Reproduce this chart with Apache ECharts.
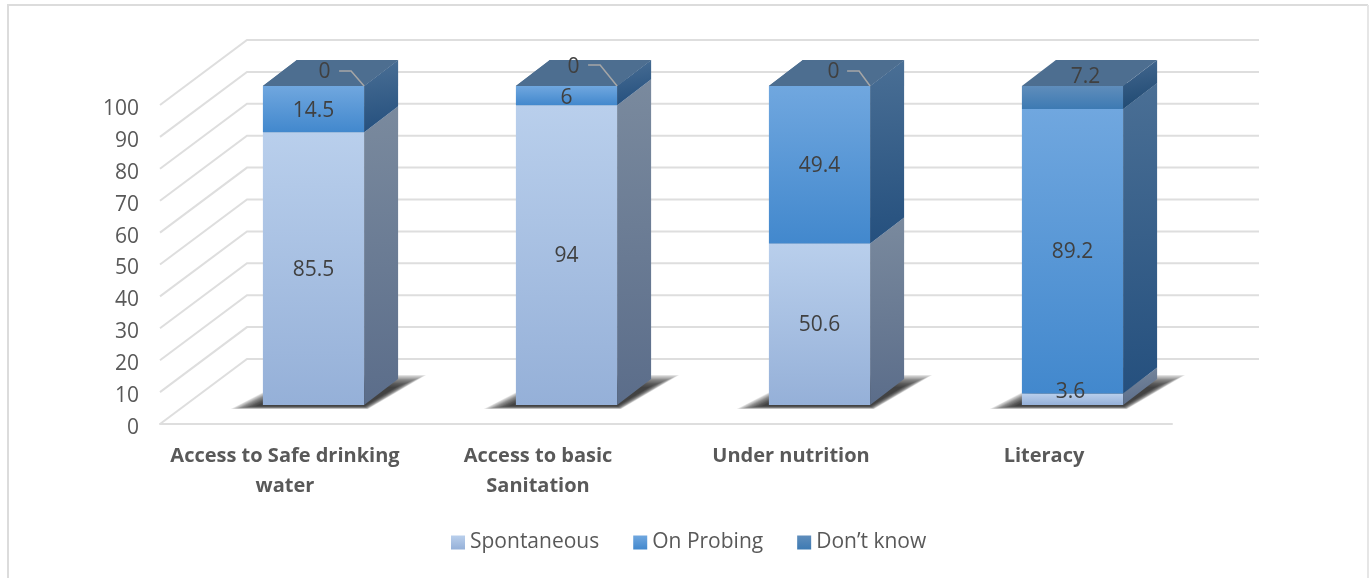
<!DOCTYPE html>
<html>
<head>
<meta charset="utf-8">
<title>Awareness by topic</title>
<script src="https://cdn.jsdelivr.net/npm/echarts@6/dist/echarts.min.js"></script>
<style>
  html, body { margin: 0; padding: 0; background: #fff; }
  #chart { width: 1372px; height: 578px; }
</style>
</head>
<body>
<div id="chart"></div>
<script>
// Values
const categories = ['Access to Safe drinking\nwater', 'Access to basic\nSanitation', 'Under nutrition', 'Literacy'];
const spontaneous = [85.5, 94, 50.6, 3.6];
const onProbing = [14.5, 6, 49.4, 89.2];
const dontKnow = [0, 0, 0, 7.2];
const yTicks = [0, 10, 20, 30, 40, 50, 60, 70, 80, 90, 100];

// Oblique projection of the 3D box: offsets from the front axis plane, in pixels
const NEAR = [27, -19];
const FAR = [61, -45];
const WALL = [87, -65];
const BAR_RATIO = 0.4;
const SHADOW_STEPS = 16;

const FONT = '"Open Sans", sans-serif';
const grad = (c0, c1, x2 = 0, y2 = 1) => new echarts.graphic.LinearGradient(0, 0, x2, y2, [
  { offset: 0, color: c0 }, { offset: 1, color: c1 }
]);

const stacks = [
  { name: 'Spontaneous', values: spontaneous,
    front: ['#b9cfec', '#95b0d8'], side: ['#7a8a9e', '#5b6d8a'], top: '#8fa3bd',
    nudge: [[0, 1], [0, 1], [0, 1], [-2, -7]] },
  { name: 'On Probing', values: onProbing,
    front: ['#70a7df', '#4288cd'], side: ['#4a6f95', '#25507e'], top: '#4d6e90',
    nudge: [[0, 2], [0, 2], [0, 1], [0, 1]] },
  { name: 'Don\u2019t know', values: dontKnow,
    front: ['#5f8dbb', '#3d7ab3'], side: ['#44688f', '#204a73'], top: '#4d6e90',
    nudge: [[11, -14], [7, -19], [14, -14], [13, -20]] }
];

// Elbow of each leader line, relative to the bar's top front-right corner
const leaders = [
  [[0, 0], [-13, -15], [-25, -15]],
  [[0, 0], [-17, -21], [-29, -21]],
  [[0, 0], [-11, -15], [-23, -15]],
  null
];

// Running base of every stacked segment
const bases = stacks.map((s, i) =>
  s.values.map((_, c) => stacks.slice(0, i).reduce((sum, p) => sum + p.values[c], 0)));

function barFrame(api, cat, low, high) {
  const band = api.size([1, 0])[0];
  const half = band * BAR_RATIO / 2;
  const a = api.coord([cat, low]);
  const b = api.coord([cat, high]);
  return {
    xL: a[0] - half + NEAR[0], xR: a[0] + half + NEAR[0],
    yB: a[1] + NEAR[1], yT: b[1] + NEAR[1],
    dx: FAR[0] - NEAR[0], dy: FAR[1] - NEAR[1]
  };
}

function poly(points, fill) {
  return { type: 'polygon', shape: { points }, style: { fill } };
}

// Back wall and side wall rules
function renderWall(params, api) {
  const v = api.value(1);
  const band = api.size([1, 0])[0];
  const start = api.coord([0, v]);
  const end = api.coord([categories.length - 1, v]);
  const x0 = start[0] - band / 2;
  const x1 = end[0] + band / 2;
  return {
    type: 'polyline',
    shape: { points: [[x0, start[1]], [x0 + WALL[0], start[1] + WALL[1]], [x1 + WALL[0], start[1] + WALL[1]]] },
    style: { fill: null, stroke: '#dedede', lineWidth: 2 }
  };
}

// Soft floor shadow behind each bar, feathered from nested translucent shapes
function renderShadow(params, api) {
  const f = barFrame(api, api.value(0), 0, 100);
  const outer = [[f.xL - 32, f.yB + 4], [f.xR + 4, f.yB + 4], [f.xR + 62, f.yB - 30], [f.xL + 34, f.yB - 30]];
  const inner = [[f.xL - 6, f.yB + 1], [f.xR, f.yB + 1], [f.xR + 32, f.yB - 18], [f.xL + 34, f.yB - 18]];
  const children = [];
  for (let k = 0; k < SHADOW_STEPS; k++) {
    const t = k / (SHADOW_STEPS - 1);
    const pts = outer.map((p, n) => [p[0] + (inner[n][0] - p[0]) * t, p[1] + (inner[n][1] - p[1]) * t]);
    children.push(poly(pts, 'rgba(30,30,30,0.1)'));
  }
  return { type: 'group', children };
}

function renderSegment(stack) {
  return function (params, api) {
    const cat = api.value(0);
    const low = api.value(1);
    const f = barFrame(api, cat, low, low + api.value(2));
    const children = [];
    if (f.yB - f.yT > 0.01) {
      children.push(poly([[f.xL, f.yT], [f.xR, f.yT], [f.xR, f.yB], [f.xL, f.yB]], grad(stack.front[0], stack.front[1])));
      children.push(poly([[f.xR, f.yT], [f.xR + f.dx, f.yT + f.dy], [f.xR + f.dx, f.yB + f.dy], [f.xR, f.yB]],
        grad(stack.side[0], stack.side[1], 0.25, 1)));
    }
    children.push(poly([[f.xL, f.yT], [f.xR, f.yT], [f.xR + f.dx, f.yT + f.dy], [f.xL + f.dx, f.yT + f.dy]], stack.top));
    return { type: 'group', children };
  };
}

// Value labels and their leader lines sit above every bar
function renderLabel(params, api) {
  const cat = api.value(0);
  const low = api.value(1);
  const val = api.value(2);
  const stack = stacks[api.value(3)];
  const f = barFrame(api, cat, low, low + val);
  const nudge = stack.nudge[cat];
  const children = [{
    type: 'text',
    style: {
      text: String(val),
      x: (f.xL + f.xR) / 2 + nudge[0], y: (f.yB + f.yT) / 2 + nudge[1],
      align: 'center', verticalAlign: 'middle',
      fill: '#404040', font: '21px ' + FONT
    }
  }];
  if (val === 0 && leaders[cat]) {
    children.push({
      type: 'polyline',
      shape: { points: leaders[cat].map(p => [f.xR + p[0], f.yT + p[1]]) },
      style: { fill: null, stroke: '#a6a6a6', lineWidth: 1.5 }
    });
  }
  return { type: 'group', children };
}

const labelRows = [];
stacks.forEach((s, i) => s.values.forEach((v, c) => labelRows.push([c, bases[i][c], v, i])));

const chart = echarts.init(document.getElementById('chart'), null, { renderer: 'canvas' });
chart.setOption({
  animation: false,
  backgroundColor: '#fff',
  textStyle: { fontFamily: FONT },
  graphic: [
    { type: 'polyline', silent: true,
      shape: { points: [[8, 578], [8, 5], [1368, 5]] },
      style: { fill: null, stroke: '#dcdcdc', lineWidth: 2 } },
    { type: 'line', silent: true,
      shape: { x1: 1368, y1: 5, x2: 1368, y2: 578 },
      style: { stroke: '#e6e6e6', lineWidth: 2 } }
  ],
  grid: { left: 160, width: 1012, top: 105, height: 319 },
  xAxis: {
    type: 'category', data: categories,
    axisTick: { show: false },
    axisLine: { lineStyle: { color: '#dedede', width: 2 } },
    axisLabel: {
      color: '#595959', fontWeight: 'bold', fontSize: 20, fontFamily: FONT,
      lineHeight: 30, margin: 17, padding: [0, 3, 0, 0], interval: 0
    }
  },
  yAxis: {
    type: 'value', min: 0, max: 100, interval: 10,
    axisLine: { show: false }, axisTick: { show: false }, splitLine: { show: false },
    axisLabel: { color: '#595959', fontSize: 21, fontFamily: FONT, margin: 21, verticalAlign: 'top', lineHeight: 8 }
  },
  legend: {
    left: 451, top: 532, padding: 0, icon: 'rect', itemWidth: 14, itemHeight: 14, itemGap: 34,
    textStyle: { color: '#595959', fontSize: 21, fontFamily: FONT },
    data: stacks.map(s => ({ name: s.name, itemStyle: { color: grad(s.front[0], s.front[1]) } }))
  },
  series: [
    { type: 'custom', clip: false, silent: true, encode: { x: 0, y: 1 },
      data: yTicks.map(v => [0, v]), renderItem: renderWall },
    { type: 'custom', clip: false, silent: true, encode: { x: 0, y: 1 },
      data: categories.map((_, c) => [c, 0]), renderItem: renderShadow }
  ].concat(stacks.map((s, i) => ({
    type: 'custom', name: s.name, clip: false, silent: true,
    itemStyle: { color: s.front[1] },
    encode: { x: 0, y: 1 },
    data: s.values.map((v, c) => [c, bases[i][c], v]),
    renderItem: renderSegment(s)
  }))).concat([
    { type: 'custom', clip: false, silent: true, encode: { x: 0, y: 1 },
      data: labelRows, renderItem: renderLabel }
  ])
});
</script>
</body>
</html>
